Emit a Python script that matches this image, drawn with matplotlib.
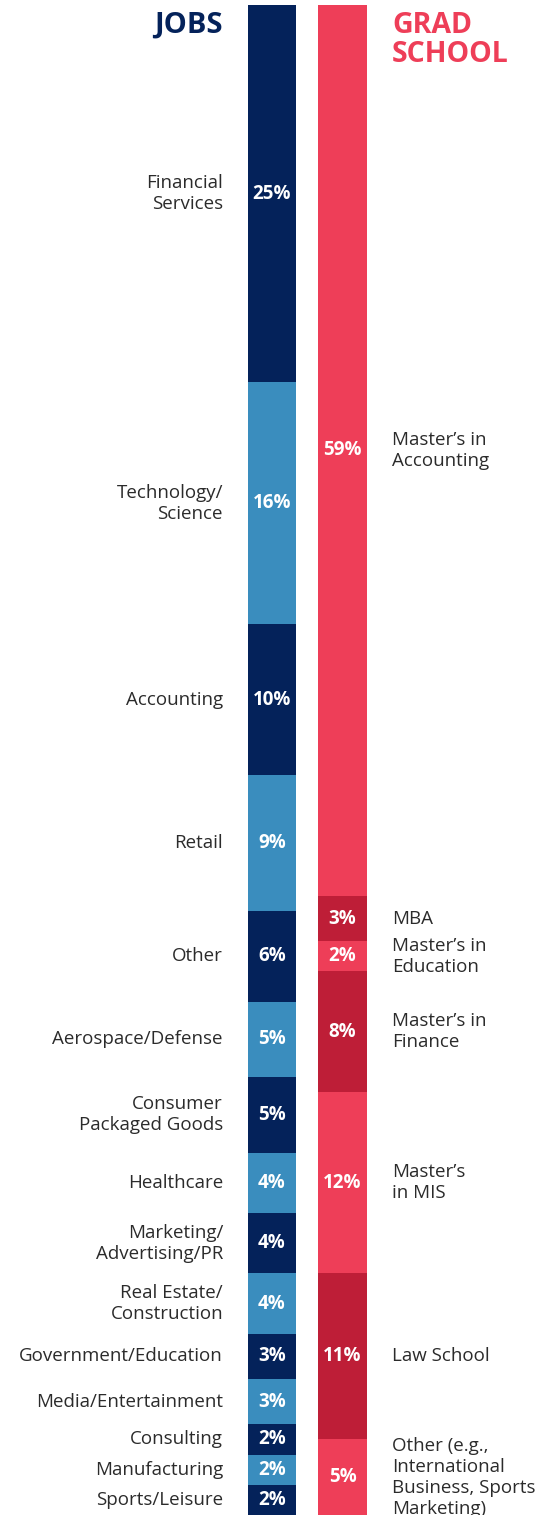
import matplotlib.pyplot as plt

plt.rcParams['font.family'] = ['Open Sans', 'DejaVu Sans']

# jobs column (top to bottom)
job_labels = ["Financial\nServices", "Technology/\nScience", "Accounting", "Retail",
              "Other", "Aerospace/Defense", "Consumer\nPackaged Goods", "Healthcare",
              "Marketing/\nAdvertising/PR", "Real Estate/\nConstruction",
              "Government/Education", "Media/Entertainment", "Consulting",
              "Manufacturing", "Sports/Leisure"]
job_values = [25, 16, 10, 9, 6, 5, 5, 4, 4, 4, 3, 3, 2, 2, 2]

# grad school column (top to bottom)
grad_labels = ["Master\u2019s in\nAccounting", "MBA", "Master\u2019s in\nEducation",
               "Master\u2019s in\nFinance", "Master\u2019s\nin MIS", "Law School",
               "Other (e.g.,\nInternational\nBusiness, Sports\nMarketing)"]
grad_values = [59, 3, 2, 8, 12, 11, 5]

navy = "#04225A"
blue = "#3A8DBE"
red = "#EE3E58"
darkred = "#BE1E37"
grey = "#2B2B2B"

fig = plt.figure(figsize=(5.52, 15.15), dpi=100)
ax = fig.add_axes([0, 0, 1, 1])
ax.set_xlim(0, 552)
ax.set_ylim(100.0, -0.33)
ax.axis("off")

# jobs bar
bottom = 0
for i, (lab, v) in enumerate(zip(job_labels, job_values)):
    c = navy if i % 2 == 0 else blue
    ax.bar(272, v, width=48, bottom=bottom, color=c, align="center")
    mid = bottom + v / 2
    ax.text(272, mid, f"{v}%", color="white", fontsize=13.5, fontweight="bold",
            ha="center", va="center")
    ax.text(223, mid, lab, color=grey, fontsize=13.5, ha="right", va="center",
            linespacing=1.22)
    bottom += v

# grad bar
bottom = 0
for i, (lab, v) in enumerate(zip(grad_labels, grad_values)):
    c = red if i % 2 == 0 else darkred
    ax.bar(342.5, v, width=49, bottom=bottom, color=c, align="center")
    mid = bottom + v / 2
    ax.text(342.5, mid, f"{v}%", color="white", fontsize=13.5, fontweight="bold",
            ha="center", va="center")
    ax.text(392, mid, lab, color=grey, fontsize=13.5, ha="left", va="center",
            linespacing=1.22)
    bottom += v

# headers
ax.text(223, 1.3, "JOBS", color=navy, fontsize=21, fontweight="bold",
        ha="right", va="center")
ax.text(392, 2.35, "GRAD\nSCHOOL", color=red, fontsize=20.5, fontweight="bold",
        ha="left", va="center", linespacing=1.0)

fig.savefig("out.png", dpi=100)
